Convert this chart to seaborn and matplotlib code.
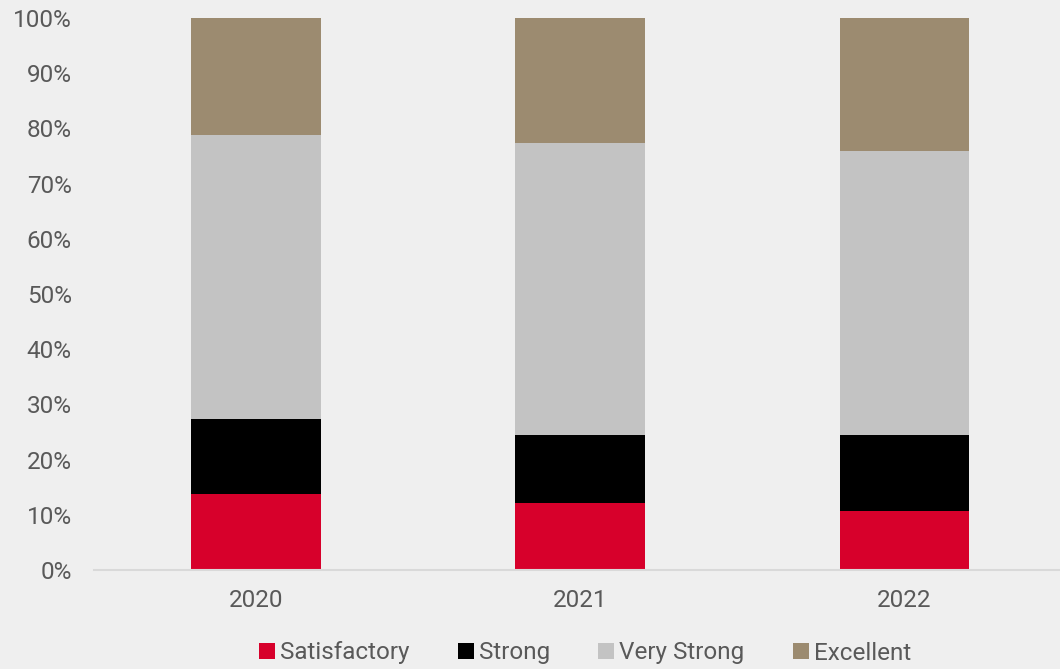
import matplotlib
matplotlib.use("Agg")
import matplotlib.pyplot as plt
import seaborn as sns
import pandas as pd
import numpy as np
from matplotlib.patches import Patch
from matplotlib.ticker import PercentFormatter

years = ["2020", "2021", "2022"]
satisfactory = [13.8, 12.2, 10.7]
strong = [13.6, 12.2, 13.7]
very_strong = [51.4, 53.0, 51.5]
excellent = [21.2, 22.6, 24.1]

series_names = ["Satisfactory", "Strong", "Very Strong", "Excellent"]
series_values = [satisfactory, strong, very_strong, excellent]
colors = ["#D7002B", "#000000", "#C3C3C3", "#9C8B70"]

bg = "#EFEFEF"
text_color = "#595959"

sns.set_theme(style="white")
plt.rcParams["font.family"] = ["Roboto", "DejaVu Sans"]

fig = plt.figure(figsize=(10.6, 6.69), dpi=100, facecolor=bg)
ax = fig.add_axes([94 / 1060, (669 - 570) / 669, 1 - 94 / 1060, (570 - 18) / 669])
ax.set_facecolor(bg)

# stacked bars: draw cumulative totals from the top layer down
cum = np.cumsum(np.array(series_values), axis=0)
for i in range(len(series_names) - 1, -1, -1):
    df = pd.DataFrame({"year": years, "value": cum[i]})
    sns.barplot(data=df, x="year", y="value", color=colors[i], width=0.4,
                saturation=1, linewidth=0, ax=ax)

ax.set_xlim(-0.5, 2.48)
ax.set_ylim(0, 100)
ax.set_yticks(np.arange(0, 101, 10))
ax.yaxis.set_major_formatter(PercentFormatter(decimals=0))
ax.set_xlabel("")
ax.set_ylabel("")
for s in ["top", "right", "left"]:
    ax.spines[s].set_visible(False)
ax.spines["bottom"].set_color("#D9D9D9")
ax.spines["bottom"].set_linewidth(1.5)
ax.tick_params(axis="both", length=0, labelsize=17.5, colors=text_color)
ax.tick_params(axis="y", pad=16)
ax.tick_params(axis="x", pad=14)

handles = [Patch(facecolor=c, edgecolor="none") for c in colors]
leg = fig.legend(handles, series_names, loc="center", bbox_to_anchor=(585 / 1060, 1 - 653 / 669),
                 ncol=4, frameon=False, fontsize=17.5, handlelength=0.65, handleheight=0.65,
                 handletextpad=0.2, columnspacing=2.0)
for t in leg.get_texts():
    t.set_color(text_color)

fig.savefig("out.png", dpi=100, facecolor=bg)
